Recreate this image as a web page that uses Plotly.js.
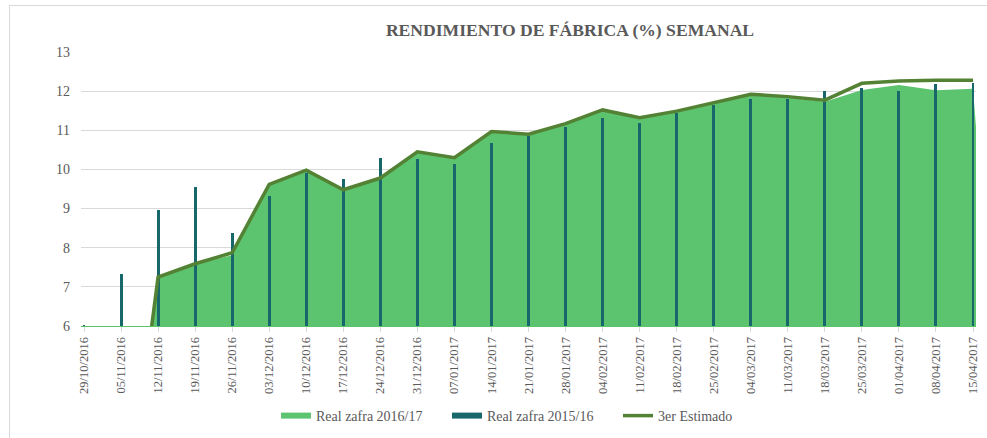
<!DOCTYPE html>
<html>
<head>
<meta charset="utf-8">
<script src="https://cdn.plot.ly/plotly-3.0.1.min.js"></script>
<style>
html,body{margin:0;padding:0;background:#fff;}
#wrap{position:relative;width:987px;height:438px;overflow:hidden;}
#chart{width:987px;height:438px;}
#frame{position:absolute;left:9px;top:5px;width:1000px;height:500px;border-left:1px solid #d9d9d9;border-top:1px solid #d9d9d9;pointer-events:none;}
</style>
</head>
<body>
<div id="wrap"><div id="chart"></div><div id="frame"></div></div>
<script>
const categories = ["29/10/2016","05/11/2016","12/11/2016","19/11/2016","26/11/2016","03/12/2016","10/12/2016","17/12/2016","24/12/2016","31/12/2016","07/01/2017","14/01/2017","21/01/2017","28/01/2017","04/02/2017","11/02/2017","18/02/2017","25/02/2017","04/03/2017","11/03/2017","18/03/2017","25/03/2017","01/04/2017","08/04/2017","15/04/2017","22/04/2017"];
const real2016_17 = [0,0,7.25,7.59,7.81,9.62,9.98,9.48,9.78,10.45,10.30,10.97,10.90,11.17,11.52,11.32,11.49,11.71,11.92,11.84,11.73,12.03,12.16,12.02,12.06,0];
const real2015_16 = [6.03,7.32,8.97,9.55,8.38,9.32,9.92,9.75,10.29,10.26,10.13,10.67,10.85,11.08,11.31,11.18,11.44,11.65,11.81,11.80,12.01,12.07,12.00,12.18,12.22];
const estimado3 = [0,0,7.25,7.59,7.87,9.62,9.98,9.48,9.78,10.45,10.30,10.97,10.90,11.17,11.52,11.32,11.49,11.71,11.92,11.86,11.77,12.20,12.26,12.28,12.28];

const serif = "Liberation Serif, Times New Roman, serif";
const txt = '#595959';
const barColor = '#17676B';

const data = [
  {type:'scatter', mode:'none', name:'Real zafra 2016/17', x:categories, y:real2016_17,
   fill:'tozeroy', fillcolor:'#5CC36E', xaxis:'x', yaxis:'y', hoverinfo:'x+y'},
  {type:'scatter', mode:'none', name:'Real zafra 2015/16', x:[null], y:[null],
   fill:'toself', fillcolor:barColor, xaxis:'x', yaxis:'y2', legendgroup:'b'},
  {type:'bar', name:'Real zafra 2015/16', x:categories.slice(0, real2015_16.length), y:real2015_16,
   marker:{color:barColor}, width:0.08, xaxis:'x', yaxis:'y2', showlegend:false, legendgroup:'b'},
  {type:'scatter', mode:'lines', name:'3er Estimado', x:categories.slice(0, estimado3.length), y:estimado3,
   line:{color:'#548235', width:3.5}, xaxis:'x', yaxis:'y2'}
];

const layout = {
  width:987, height:438,
  margin:{l:81, r:11, t:52, b:112, autoexpand:false},
  paper_bgcolor:'#fff', plot_bgcolor:'#fff',
  font:{family:serif, color:txt},
  title:{text:'<b>RENDIMIENTO DE FÁBRICA (%) SEMANAL</b>', font:{family:serif, size:17.6, color:txt},
         x:0.5775, xref:'container', xanchor:'center', y:0.931, yref:'container', yanchor:'middle'},
  showlegend:true,
  legend:{orientation:'h', x:276/987, xref:'container', xanchor:'left', y:1-416/438, yref:'container', yanchor:'middle',
          font:{family:serif, size:14, color:txt}, itemwidth:30, entrywidth:126, entrywidthmode:'pixels',
          bgcolor:'rgba(0,0,0,0)', traceorder:'normal'},
  xaxis:{type:'category', range:[-0.081, 24.081], tickangle:-90, tickfont:{family:serif, size:12.5, color:txt},
         ticks:'outside', ticklen:5, tickcolor:'#d9d9d9', showline:true, linecolor:'#5CC36E', linewidth:1,
         showgrid:false, zeroline:false, fixedrange:true, automargin:false},
  yaxis:{range:[6,13], dtick:1, tick0:6, showgrid:true, gridcolor:'#d9d9d9', gridwidth:1,
         zeroline:false, showline:false, ticks:'', tickfont:{family:serif, size:14, color:txt},
         ticklabelstandoff:10, fixedrange:true, automargin:false},
  yaxis2:{range:[6,13], overlaying:'y', visible:false, showgrid:false, zeroline:false, fixedrange:true},
  bargap:0
};

Plotly.newPlot('chart', data, layout, {displayModeBar:false, staticPlot:true});
</script>
</body>
</html>
